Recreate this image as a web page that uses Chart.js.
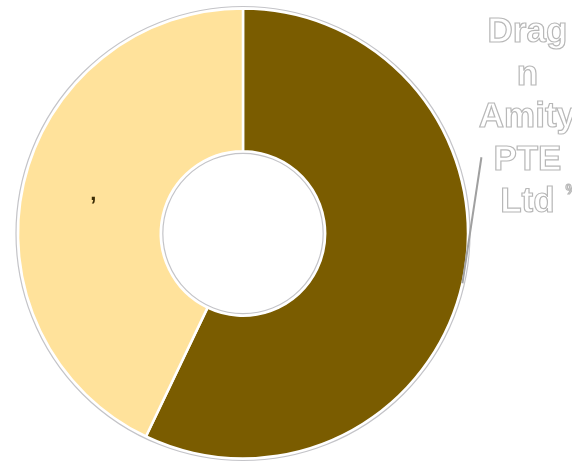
<html lang="en">
  <head>
    <meta charset="utf-8" />
    <title>Doughnut</title>
    <script src="https://cdn.jsdelivr.net/npm/chart.js@4.4.1/dist/chart.umd.min.js"></script>
    <style>
      html, body { margin: 0; padding: 0; background: #fff; }
      #wrap { width: 572px; height: 462px; position: relative; }
    </style>
  </head>
  <body>
    <div id="wrap"><canvas id="chart"></canvas></div>
    <script>
      const categories = ["Dragon Amity PTE Ltd", ""];
      const values = [57.1, 42.9];
      const colors = ["#7a5c00", "#ffe29b"];
      const labelLines = ["Drag", "n", "Amity", "PTE", "Ltd"];

      // grey outline ring, leader line and the two labels
      const decor = {
        id: "decor",
        afterDatasetsDraw(chart) {
          const ctx = chart.ctx;
          const arcs = chart.getDatasetMeta(0).data;
          const a0 = arcs[0].getProps(["x", "y", "startAngle", "endAngle", "outerRadius", "innerRadius"], true);
          const cx = a0.x, cy = a0.y;
          ctx.save();
          ctx.strokeStyle = "#c4c4c8";
          ctx.lineWidth = 1.2;
          ctx.beginPath();
          ctx.arc(cx, cy, a0.outerRadius + 2, 0, Math.PI * 2);
          ctx.stroke();
          ctx.beginPath();
          ctx.arc(cx, cy, a0.innerRadius - 2, 0, Math.PI * 2);
          ctx.stroke();

          // leader line for the dark slice
          const mid = (a0.startAngle + a0.endAngle) / 2;
          const sx = cx + Math.cos(mid) * (a0.outerRadius);
          const sy = cy + Math.sin(mid) * (a0.outerRadius);
          const ex = sx + 19, ey = sy - 126;
          ctx.strokeStyle = "#a0a0a0";
          ctx.lineWidth = 2;
          ctx.beginPath();
          ctx.moveTo(sx, sy);
          ctx.lineTo(ex, ey);
          ctx.stroke();

          ctx.font = "bold 35px 'Liberation Sans', Arial, sans-serif";
          ctx.textAlign = "center";
          ctx.textBaseline = "alphabetic";
          ctx.fillStyle = "#ffffff";
          ctx.strokeStyle = "#b8b8b8";
          ctx.lineWidth = 1.2;
          const tx = ex + 46;
          labelLines.forEach((t, i) => {
            const by = ey - 115 + i * 42.5;
            ctx.fillText(t, tx, by);
            ctx.strokeText(t, tx, by);
          });
          ctx.font = "bold 15px 'Liberation Sans', Arial, sans-serif";
          ctx.textAlign = "left";
          ctx.fillText("%", tx + 38, ey + 37);
          ctx.strokeText("%", tx + 38, ey + 37);

          // label of the light slice
          const a1 = arcs[1].getProps(["startAngle", "endAngle", "outerRadius", "innerRadius"], true);
          const m1 = (a1.startAngle + a1.endAngle) / 2;
          const r1 = (a1.outerRadius + a1.innerRadius) / 2;
          ctx.font = "bold 22px 'Liberation Sans', Arial, sans-serif";
          ctx.textAlign = "center";
          ctx.textBaseline = "middle";
          ctx.fillStyle = "#3b2c05";
          ctx.fillText(",", cx + Math.cos(m1) * r1, cy + Math.sin(m1) * r1 - 6);
          ctx.restore();
        }
      };

      new Chart(document.getElementById("chart"), {
        type: "doughnut",
        data: {
          labels: categories,
          datasets: [{
            data: values,
            backgroundColor: colors,
            borderColor: "#ffffff",
            borderWidth: 2.5
          }]
        },
        options: {
          responsive: true,
          maintainAspectRatio: false,
          animation: false,
          radius: 225,
          cutout: 83,
          layout: { padding: { left: 0, right: 86, top: 5, bottom: 0 } },
          plugins: { legend: { display: false }, tooltip: { enabled: false } }
        },
        plugins: [decor]
      });
    </script>
  </body>
</html>
